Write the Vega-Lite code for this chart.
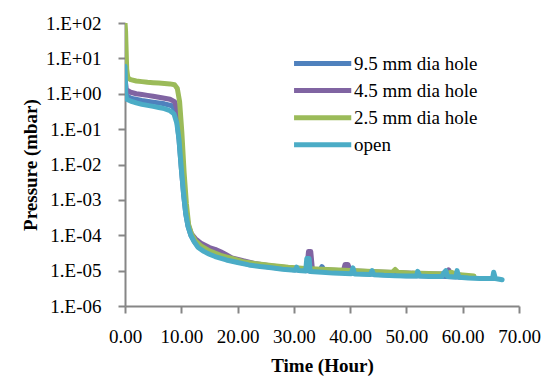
{
  "$schema": "https://vega.github.io/schema/vega-lite/v6.json",
  "width": 394,
  "height": 283,
  "autosize": {"type": "none"},
  "padding": {"left": 125, "top": 23, "right": 37, "bottom": 72},
  "background": "white",
  "config": {
    "view": {"stroke": null},
    "font": "Liberation Serif"
  },
  "data": {
    "values": [
      {"s": "9.5 mm dia hole", "t": 0, "p": 4},
      {"s": "9.5 mm dia hole", "t": 0.2, "p": 0.9},
      {"s": "9.5 mm dia hole", "t": 1, "p": 0.75},
      {"s": "9.5 mm dia hole", "t": 3, "p": 0.65},
      {"s": "9.5 mm dia hole", "t": 5, "p": 0.58},
      {"s": "9.5 mm dia hole", "t": 7, "p": 0.52},
      {"s": "9.5 mm dia hole", "t": 8.5, "p": 0.45},
      {"s": "9.5 mm dia hole", "t": 9.2, "p": 0.2},
      {"s": "9.5 mm dia hole", "t": 9.6, "p": 0.05},
      {"s": "9.5 mm dia hole", "t": 10.0, "p": 0.008},
      {"s": "9.5 mm dia hole", "t": 10.4, "p": 0.0015},
      {"s": "9.5 mm dia hole", "t": 10.8, "p": 0.0004},
      {"s": "9.5 mm dia hole", "t": 11.2, "p": 0.00018},
      {"s": "9.5 mm dia hole", "t": 11.7, "p": 0.0001},
      {"s": "9.5 mm dia hole", "t": 12.3, "p": 0.000068},
      {"s": "9.5 mm dia hole", "t": 13, "p": 0.000048},
      {"s": "9.5 mm dia hole", "t": 15, "p": 0.00003},
      {"s": "9.5 mm dia hole", "t": 18, "p": 0.000021},
      {"s": "9.5 mm dia hole", "t": 22, "p": 0.000015},
      {"s": "9.5 mm dia hole", "t": 26, "p": 0.0000125},
      {"s": "9.5 mm dia hole", "t": 30, "p": 0.0000105},
      {"s": "9.5 mm dia hole", "t": 34.5, "p": 0.0000095},
      {"s": "9.5 mm dia hole", "t": 35, "p": 0.000013},
      {"s": "9.5 mm dia hole", "t": 35.5, "p": 0.0000095},
      {"s": "9.5 mm dia hole", "t": 40, "p": 0.0000085},
      {"s": "9.5 mm dia hole", "t": 45, "p": 0.0000078},
      {"s": "9.5 mm dia hole", "t": 50, "p": 0.0000072},
      {"s": "9.5 mm dia hole", "t": 55, "p": 0.000007},
      {"s": "9.5 mm dia hole", "t": 60, "p": 0.0000065},

      {"s": "4.5 mm dia hole", "t": 0, "p": 3},
      {"s": "4.5 mm dia hole", "t": 0.2, "p": 1.3},
      {"s": "4.5 mm dia hole", "t": 1, "p": 1.1},
      {"s": "4.5 mm dia hole", "t": 2, "p": 1.0},
      {"s": "4.5 mm dia hole", "t": 3, "p": 0.95},
      {"s": "4.5 mm dia hole", "t": 4, "p": 0.9},
      {"s": "4.5 mm dia hole", "t": 5, "p": 0.85},
      {"s": "4.5 mm dia hole", "t": 6, "p": 0.8},
      {"s": "4.5 mm dia hole", "t": 7, "p": 0.75},
      {"s": "4.5 mm dia hole", "t": 8, "p": 0.7},
      {"s": "4.5 mm dia hole", "t": 8.8, "p": 0.6},
      {"s": "4.5 mm dia hole", "t": 9.3, "p": 0.35},
      {"s": "4.5 mm dia hole", "t": 9.7, "p": 0.08},
      {"s": "4.5 mm dia hole", "t": 10.1, "p": 0.01},
      {"s": "4.5 mm dia hole", "t": 10.5, "p": 0.0015},
      {"s": "4.5 mm dia hole", "t": 10.9, "p": 0.0004},
      {"s": "4.5 mm dia hole", "t": 11.3, "p": 0.00018},
      {"s": "4.5 mm dia hole", "t": 11.8, "p": 0.00011},
      {"s": "4.5 mm dia hole", "t": 12.5, "p": 0.00008},
      {"s": "4.5 mm dia hole", "t": 13.5, "p": 0.00006},
      {"s": "4.5 mm dia hole", "t": 15, "p": 0.000045},
      {"s": "4.5 mm dia hole", "t": 16, "p": 0.00004},
      {"s": "4.5 mm dia hole", "t": 17, "p": 0.000034},
      {"s": "4.5 mm dia hole", "t": 18, "p": 0.000028},
      {"s": "4.5 mm dia hole", "t": 19, "p": 0.000023},
      {"s": "4.5 mm dia hole", "t": 21, "p": 0.000019},
      {"s": "4.5 mm dia hole", "t": 23, "p": 0.000016},
      {"s": "4.5 mm dia hole", "t": 26, "p": 0.0000135},
      {"s": "4.5 mm dia hole", "t": 29, "p": 0.000012},
      {"s": "4.5 mm dia hole", "t": 32.3, "p": 0.000011},
      {"s": "4.5 mm dia hole", "t": 32.6, "p": 0.000035},
      {"s": "4.5 mm dia hole", "t": 33, "p": 0.000035},
      {"s": "4.5 mm dia hole", "t": 33.3, "p": 0.000011},
      {"s": "4.5 mm dia hole", "t": 36, "p": 0.0000105},
      {"s": "4.5 mm dia hole", "t": 38.8, "p": 0.00001},
      {"s": "4.5 mm dia hole", "t": 39.1, "p": 0.000015},
      {"s": "4.5 mm dia hole", "t": 39.6, "p": 0.000015},
      {"s": "4.5 mm dia hole", "t": 40, "p": 0.00001},
      {"s": "4.5 mm dia hole", "t": 43, "p": 0.0000095},
      {"s": "4.5 mm dia hole", "t": 46, "p": 0.000009},
      {"s": "4.5 mm dia hole", "t": 50, "p": 0.0000085},
      {"s": "4.5 mm dia hole", "t": 54, "p": 0.000008},
      {"s": "4.5 mm dia hole", "t": 57.3, "p": 0.0000082},
      {"s": "4.5 mm dia hole", "t": 57.5, "p": 0.0000105},
      {"s": "4.5 mm dia hole", "t": 57.8, "p": 0.0000078},
      {"s": "4.5 mm dia hole", "t": 61, "p": 0.000007},

      {"s": "2.5 mm dia hole", "t": 0, "p": 100},
      {"s": "2.5 mm dia hole", "t": 0.1, "p": 60},
      {"s": "2.5 mm dia hole", "t": 0.3, "p": 5},
      {"s": "2.5 mm dia hole", "t": 0.5, "p": 2.8},
      {"s": "2.5 mm dia hole", "t": 1, "p": 2.5},
      {"s": "2.5 mm dia hole", "t": 2, "p": 2.3},
      {"s": "2.5 mm dia hole", "t": 3, "p": 2.2},
      {"s": "2.5 mm dia hole", "t": 4, "p": 2.1},
      {"s": "2.5 mm dia hole", "t": 5, "p": 2.05},
      {"s": "2.5 mm dia hole", "t": 6, "p": 2.0},
      {"s": "2.5 mm dia hole", "t": 7, "p": 1.95},
      {"s": "2.5 mm dia hole", "t": 8, "p": 1.9},
      {"s": "2.5 mm dia hole", "t": 8.8, "p": 1.8},
      {"s": "2.5 mm dia hole", "t": 9.3, "p": 1.4},
      {"s": "2.5 mm dia hole", "t": 9.7, "p": 0.6},
      {"s": "2.5 mm dia hole", "t": 10.1, "p": 0.08},
      {"s": "2.5 mm dia hole", "t": 10.5, "p": 0.006},
      {"s": "2.5 mm dia hole", "t": 10.9, "p": 0.0008},
      {"s": "2.5 mm dia hole", "t": 11.3, "p": 0.0002},
      {"s": "2.5 mm dia hole", "t": 11.8, "p": 0.00011},
      {"s": "2.5 mm dia hole", "t": 12.5, "p": 0.00007},
      {"s": "2.5 mm dia hole", "t": 13.5, "p": 0.00005},
      {"s": "2.5 mm dia hole", "t": 15, "p": 0.000036},
      {"s": "2.5 mm dia hole", "t": 17, "p": 0.000027},
      {"s": "2.5 mm dia hole", "t": 19, "p": 0.000022},
      {"s": "2.5 mm dia hole", "t": 21, "p": 0.000018},
      {"s": "2.5 mm dia hole", "t": 23, "p": 0.000016},
      {"s": "2.5 mm dia hole", "t": 26, "p": 0.000014},
      {"s": "2.5 mm dia hole", "t": 29, "p": 0.0000125},
      {"s": "2.5 mm dia hole", "t": 32, "p": 0.0000115},
      {"s": "2.5 mm dia hole", "t": 35, "p": 0.000011},
      {"s": "2.5 mm dia hole", "t": 38, "p": 0.0000105},
      {"s": "2.5 mm dia hole", "t": 41, "p": 0.00001},
      {"s": "2.5 mm dia hole", "t": 44, "p": 0.0000095},
      {"s": "2.5 mm dia hole", "t": 47.5, "p": 0.000009},
      {"s": "2.5 mm dia hole", "t": 48, "p": 0.0000108},
      {"s": "2.5 mm dia hole", "t": 48.5, "p": 0.000009},
      {"s": "2.5 mm dia hole", "t": 51, "p": 0.0000085},
      {"s": "2.5 mm dia hole", "t": 54, "p": 0.0000083},
      {"s": "2.5 mm dia hole", "t": 57, "p": 0.000008},
      {"s": "2.5 mm dia hole", "t": 58, "p": 0.000009},
      {"s": "2.5 mm dia hole", "t": 59, "p": 0.0000078},
      {"s": "2.5 mm dia hole", "t": 62, "p": 0.000007},

      {"s": "open", "t": 0, "p": 6},
      {"s": "open", "t": 0.05, "p": 3},
      {"s": "open", "t": 0.15, "p": 0.9},
      {"s": "open", "t": 0.3, "p": 0.7},
      {"s": "open", "t": 1, "p": 0.62},
      {"s": "open", "t": 2, "p": 0.55},
      {"s": "open", "t": 3, "p": 0.5},
      {"s": "open", "t": 4, "p": 0.47},
      {"s": "open", "t": 5, "p": 0.44},
      {"s": "open", "t": 6, "p": 0.41},
      {"s": "open", "t": 7, "p": 0.38},
      {"s": "open", "t": 8, "p": 0.33},
      {"s": "open", "t": 8.7, "p": 0.27},
      {"s": "open", "t": 9.2, "p": 0.15},
      {"s": "open", "t": 9.6, "p": 0.05},
      {"s": "open", "t": 10.0, "p": 0.008},
      {"s": "open", "t": 10.4, "p": 0.0015},
      {"s": "open", "t": 10.8, "p": 0.0004},
      {"s": "open", "t": 11.2, "p": 0.00018},
      {"s": "open", "t": 11.7, "p": 0.0001},
      {"s": "open", "t": 12.3, "p": 0.000065},
      {"s": "open", "t": 13, "p": 0.000045},
      {"s": "open", "t": 14, "p": 0.000035},
      {"s": "open", "t": 15, "p": 0.000029},
      {"s": "open", "t": 16, "p": 0.000025},
      {"s": "open", "t": 18, "p": 0.00002},
      {"s": "open", "t": 20, "p": 0.000017},
      {"s": "open", "t": 22, "p": 0.0000145},
      {"s": "open", "t": 24, "p": 0.000013},
      {"s": "open", "t": 26, "p": 0.000012},
      {"s": "open", "t": 28, "p": 0.000011},
      {"s": "open", "t": 30.2, "p": 0.0000102},
      {"s": "open", "t": 30.5, "p": 0.0000125},
      {"s": "open", "t": 30.8, "p": 0.0000101},
      {"s": "open", "t": 32.1, "p": 0.0000097},
      {"s": "open", "t": 32.3, "p": 0.000022},
      {"s": "open", "t": 32.7, "p": 0.000022},
      {"s": "open", "t": 32.9, "p": 0.0000095},
      {"s": "open", "t": 35, "p": 0.000009},
      {"s": "open", "t": 37, "p": 0.0000085},
      {"s": "open", "t": 40.2, "p": 0.0000081},
      {"s": "open", "t": 40.5, "p": 0.000012},
      {"s": "open", "t": 40.8, "p": 0.000008},
      {"s": "open", "t": 43.6, "p": 0.0000078},
      {"s": "open", "t": 43.9, "p": 0.00001},
      {"s": "open", "t": 44.2, "p": 0.0000077},
      {"s": "open", "t": 46, "p": 0.0000074},
      {"s": "open", "t": 48, "p": 0.0000072},
      {"s": "open", "t": 50, "p": 0.000007},
      {"s": "open", "t": 51.8, "p": 0.000007},
      {"s": "open", "t": 52, "p": 0.0000095},
      {"s": "open", "t": 52.4, "p": 0.000007},
      {"s": "open", "t": 54, "p": 0.0000068},
      {"s": "open", "t": 56.3, "p": 0.0000068},
      {"s": "open", "t": 56.6, "p": 0.0000085},
      {"s": "open", "t": 57, "p": 0.00001},
      {"s": "open", "t": 57.3, "p": 0.0000068},
      {"s": "open", "t": 58.8, "p": 0.0000066},
      {"s": "open", "t": 59, "p": 0.00001},
      {"s": "open", "t": 59.3, "p": 0.0000065},
      {"s": "open", "t": 61, "p": 0.0000062},
      {"s": "open", "t": 63, "p": 0.000006},
      {"s": "open", "t": 65.3, "p": 0.000006},
      {"s": "open", "t": 65.5, "p": 0.000009},
      {"s": "open", "t": 65.8, "p": 0.000006},
      {"s": "open", "t": 67, "p": 0.0000055}
    ]
  },
  "mark": {"type": "line", "strokeWidth": 5, "strokeCap": "round", "strokeJoin": "round", "clip": true},
  "encoding": {
    "x": {
      "field": "t",
      "type": "quantitative",
      "scale": {"domain": [0, 70], "nice": false, "zero": false},
      "axis": {
        "title": "Time (Hour)",
        "values": [0, 10, 20, 30, 40, 50, 60, 70],
        "format": ".2f",
        "labelOverlap": false,
        "labelBound": false,
        "labelFlush": false,
        "grid": false,
        "domainColor": "#868686",
        "domainWidth": 2,
        "tickColor": "#868686",
        "tickWidth": 2,
        "tickSize": 7,
        "labelFont": "Liberation Serif",
        "labelFontSize": 19,
        "labelColor": "black",
        "labelPadding": 14,
        "titleFont": "Liberation Serif",
        "titleFontSize": 19,
        "titleFontWeight": "bold",
        "titleColor": "black",
        "titlePadding": 10
      }
    },
    "y": {
      "field": "p",
      "type": "quantitative",
      "scale": {"type": "log", "domain": [0.000001, 100], "nice": false},
      "axis": {
        "title": "Pressure (mbar)",
        "values": [0.000001, 0.00001, 0.0001, 0.001, 0.01, 0.1, 1, 10, 100],
        "labelExpr": "'1.E' + (datum.value >= 1 ? '+' : '-') + '0' + abs(round(log(datum.value) / LN10))",
        "labelOverlap": false,
        "labelFlush": false,
        "grid": false,
        "domainColor": "#868686",
        "domainWidth": 2,
        "tickColor": "#868686",
        "tickWidth": 2,
        "tickSize": 7,
        "labelFont": "Liberation Serif",
        "labelFontSize": 19,
        "labelColor": "black",
        "labelPadding": 17,
        "titleFont": "Liberation Serif",
        "titleFontSize": 19,
        "titleFontWeight": "bold",
        "titleColor": "black",
        "titlePadding": 5
      }
    },
    "color": {
      "field": "s",
      "type": "nominal",
      "sort": ["9.5 mm dia hole", "4.5 mm dia hole", "2.5 mm dia hole", "open"],
      "scale": {
        "domain": ["9.5 mm dia hole", "4.5 mm dia hole", "2.5 mm dia hole", "open"],
        "range": ["#4F81BD", "#8064A2", "#9BBB59", "#4BACC6"]
      },
      "legend": {
        "title": null,
        "orient": "none",
        "legendX": 168,
        "legendY": 31,
        "symbolType": "M-1.3,0H7.5",
        "symbolStrokeWidth": 5,
        "symbolSize": 169,
        "symbolStrokeCap": "round",
        "labelFont": "Liberation Serif",
        "labelFontSize": 19,
        "labelColor": "black",
        "labelOffset": 42,
        "rowPadding": 6.1
      }
    }
  }
}
